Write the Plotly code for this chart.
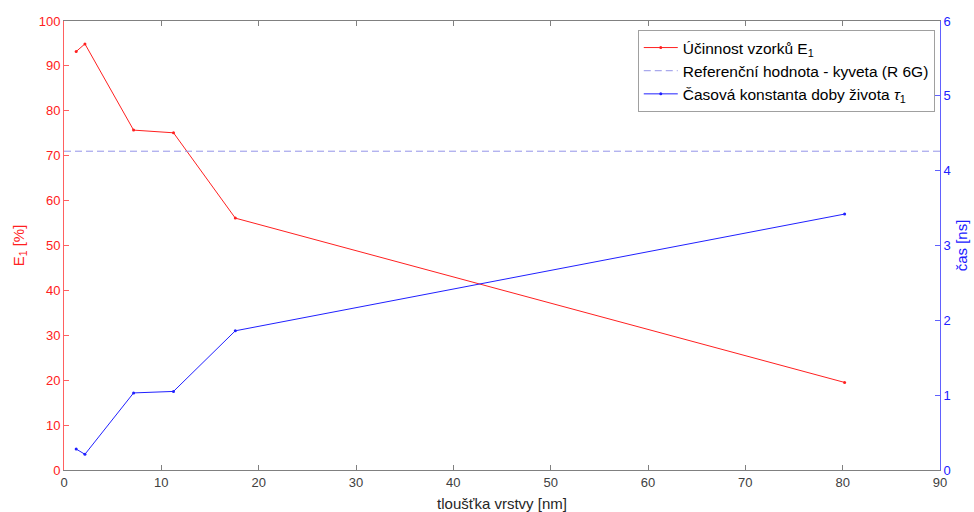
import plotly.graph_objects as go

# Layer thickness [nm]
thickness = [1.25, 2.15, 7.15, 11.25, 17.6, 80.2]
# Efficiency E1 [%]
efficiency = [93.2, 94.9, 75.7, 75.1, 56.1, 19.5]
# Lifetime constant tau1 [ns]
lifetime = [0.28, 0.21, 1.03, 1.05, 1.86, 3.42]
# Reference value for the cuvette (R 6G) [%]
reference_value = 71.0

x_ticks = [0, 10, 20, 30, 40, 50, 60, 70, 80, 90]
y1_ticks = [0, 10, 20, 30, 40, 50, 60, 70, 80, 90, 100]
y2_ticks = [0, 1, 2, 3, 4, 5, 6]

RED = "#ff2020"
BLUE = "#2020ff"
AX_RED = "#ff6060"
AX_BLUE = "#6060ff"
FONT = "Liberation Sans, Arial, sans-serif"

fig = go.Figure()

fig.add_trace(go.Scatter(
    x=thickness, y=efficiency, mode="lines+markers",
    name="Účinnost vzorků E<sub>1</sub>",
    line=dict(color=RED, width=1), marker=dict(color=RED, size=3),
    yaxis="y",
))
fig.add_trace(go.Scatter(
    x=[x_ticks[0], x_ticks[-1]], y=[reference_value, reference_value], mode="lines",
    name="Referenční hodnota - kyveta (R 6G)",
    line=dict(color="#9494e8", width=1, dash="7px,4px"),
    yaxis="y",
))
fig.add_trace(go.Scatter(
    x=thickness, y=lifetime, mode="lines+markers",
    name="Časová konstanta doby života <i>τ</i><sub>1</sub>",
    line=dict(color=BLUE, width=1), marker=dict(color=BLUE, size=3),
    yaxis="y2",
))

fig.update_layout(
    width=974, height=512,
    margin=dict(l=64, r=34, t=21, b=42),
    plot_bgcolor="white", paper_bgcolor="white",
    font=dict(family=FONT, size=13, color="#262626"),
    showlegend=True,
    legend=dict(
        x=0.655, y=0.98, xanchor="left", yanchor="top",
        bgcolor="white", bordercolor="#a0a0a0", borderwidth=1,
        font=dict(family=FONT, size=15.5, color="#000000"),
        tracegroupgap=0, itemwidth=34,
    ),
    xaxis=dict(
        range=[0, 90], tickvals=x_ticks, ticks="inside", ticklen=5,
        tickcolor="#808080", linecolor="#808080", showline=True, mirror="ticks",
        showgrid=False, zeroline=False, automargin=False,
        tickfont=dict(size=13, color="#404040"),
        title=dict(text="tloušťka vrstvy [nm]", font=dict(size=15, color="#262626"), standoff=9),
    ),
    yaxis=dict(
        range=[0, 100], tickvals=y1_ticks, ticks="inside", ticklen=5,
        tickcolor=AX_RED, linecolor=AX_RED, showline=True,
        showgrid=False, zeroline=False, automargin=False,
        tickfont=dict(size=13, color=RED),
        title=dict(text="E<sub>1</sub> [%]", font=dict(size=15, color=RED), standoff=10),
    ),
    yaxis2=dict(
        range=[0, 6], tickvals=y2_ticks, ticks="inside", ticklen=5,
        tickcolor=AX_BLUE, linecolor=AX_BLUE, showline=True,
        overlaying="y", side="right",
        showgrid=False, zeroline=False, automargin=False,
        tickfont=dict(size=13, color=BLUE),
        title=dict(text="čas [ns]", font=dict(size=15, color=BLUE), standoff=6),
    ),
)

fig.write_html("out.html")
